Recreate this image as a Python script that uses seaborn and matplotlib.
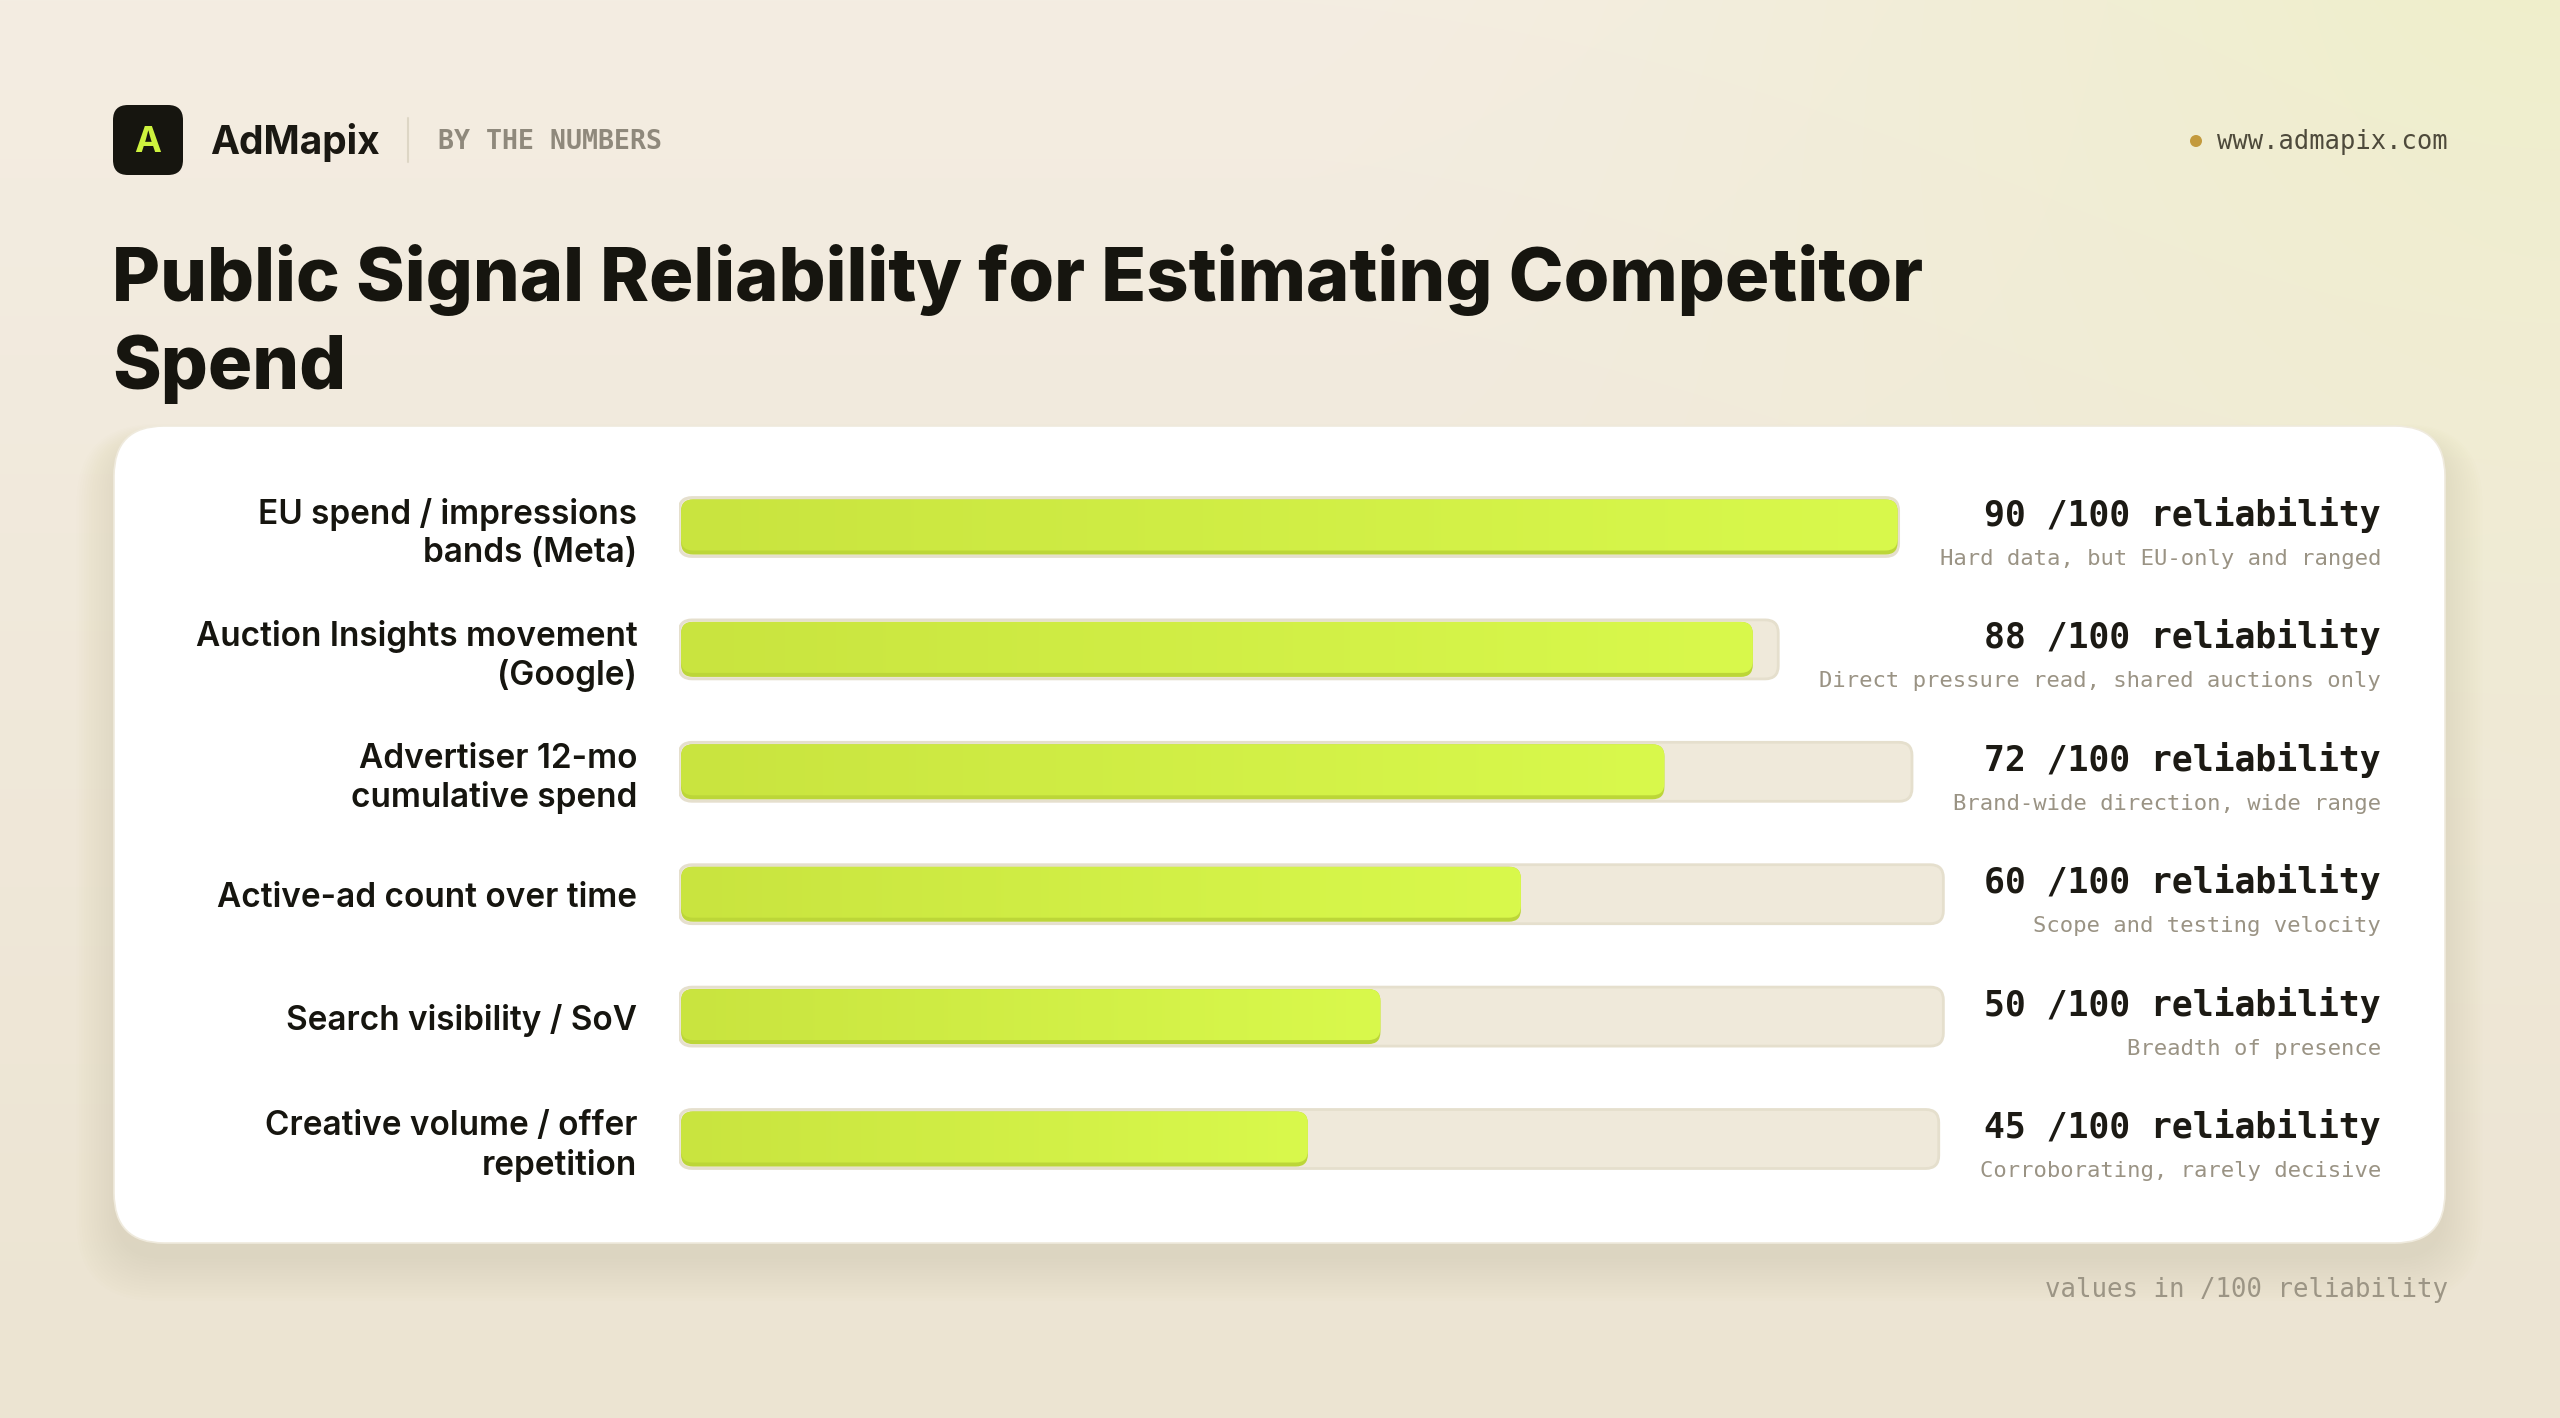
import numpy as np
import pandas as pd
import matplotlib.pyplot as plt
import seaborn as sns
from matplotlib.patches import FancyBboxPatch, Circle
from matplotlib.colors import to_rgb

# data
signals = [
    "EU spend / impressions\nbands (Meta)",
    "Auction Insights movement\n(Google)",
    "Advertiser 12-mo\ncumulative spend",
    "Active-ad count over time",
    "Search visibility / SoV",
    "Creative volume / offer\nrepetition",
]
scores = [90, 88, 72, 60, 50, 45]
notes = [
    "Hard data, but EU-only and ranged",
    "Direct pressure read, shared auctions only",
    "Brand-wide direction, wide range",
    "Scope and testing velocity",
    "Breadth of presence",
    "Corroborating, rarely decisive",
]
title_lines = ["Public Signal Reliability for Estimating Competitor", "Spend"]

sns.set_theme(style="white")
plt.rcParams["font.family"] = ["Inter", "DejaVu Sans"]
MONO = "DejaVu Sans Mono"

W, H = 2560, 1418
fig = plt.figure(figsize=(W / 100, H / 100), dpi=100)

# background canvas in pixel coords
bg = fig.add_axes([0, 0, 1, 1], zorder=0)
yy, xx = np.mgrid[0:H:2, 0:W:2]
t = (yy / H)[..., None]
top, bot, lime = np.array(to_rgb("#f4ede2")), np.array(to_rgb("#ece4d2")), np.array(to_rgb("#eeefc6"))
base = top * (1 - t) + bot * t
d = np.sqrt((xx - W * 1.0) ** 2 + (yy + 150.0) ** 2) / 1300
wgt = (np.clip(1 - d, 0, 1) ** 1.4 * 0.95)[..., None]
bg.imshow(base * (1 - wgt) + lime * wgt, extent=[0, W, H, 0], aspect="auto", interpolation="bilinear")
bg.set_xlim(0, W)
bg.set_ylim(H, 0)
bg.axis("off")

# card with soft shadow
cx, cy, cw, ch = 114, 426, 2331, 817
for k in range(16):
    bg.add_patch(FancyBboxPatch((cx - k * 2.5, cy + 16 - k * 1.2), cw + k * 5, ch + k * 4,
                                boxstyle="round,pad=0,rounding_size=%d" % (50 + k * 2),
                                fc="#8a7650", ec="none", alpha=0.008))
bg.add_patch(FancyBboxPatch((cx, cy), cw, ch, boxstyle="round,pad=0,rounding_size=50",
                            fc="white", ec="#efeadd", lw=1.2))

# header
bg.add_patch(FancyBboxPatch((113, 105), 70, 70, boxstyle="round,pad=0,rounding_size=15",
                            fc="#16150f", ec="none"))
bg.text(148, 142, "A", ha="center", va="center", fontsize=26, weight="bold", color="#cdf23e")
bg.text(210, 143, "AdMapix", ha="left", va="center", fontsize=28, weight="bold", color="#1a1812")
bg.plot([408, 408], [118, 162], color="#ddd6c5", lw=1.5)
bg.text(438, 142, "BY THE NUMBERS", ha="left", va="center", fontsize=19.2, weight="bold",
        family=MONO, color="#8f897c")
bg.add_patch(Circle((2196, 141), 6, fc="#c39a3d", ec="none"))
bg.text(2448, 142, "www.admapix.com", ha="right", va="center", fontsize=18.4,
        family=MONO, color="#4e4a3b")

# title, sized to the reference line width
t1 = bg.text(112, 280, title_lines[0], ha="left", va="center", fontsize=60, weight="heavy",
             color="#16150f")
fig.canvas.draw()
rend = fig.canvas.get_renderer()
fs = 60 * 1813 / t1.get_window_extent(rend).width
t1.set_fontsize(fs)
bg.text(112, 369, title_lines[1], ha="left", va="center", fontsize=fs, weight="heavy",
        color="#16150f")

# footer
bg.text(2448, 1290, "values in /100 reliability", ha="right", va="center", fontsize=18.5,
        family=MONO, color="#9c9585")

# main bar axes, x in pixels, y in rows
ROW = 122.4
left_px, right_px = 679, 2381
top_px = 527 - ROW / 2
ax = fig.add_axes([left_px / W, 1 - (top_px + 6 * ROW) / H, (right_px - left_px) / W, 6 * ROW / H],
                  zorder=2)
ax.set_facecolor("none")
span = right_px - left_px

# annotations, measured so each track stops short of its text column
val_txt, note_txt = [], []
for i, (s, n) in enumerate(zip(scores, notes)):
    val_txt.append(ax.text(span, i - 12 / ROW, f"{s} /100 reliability", ha="right", va="center",
                           fontsize=25, weight="bold", family=MONO, color="#1c1a14"))
    note_txt.append(ax.text(span, i + 32 / ROW, n, ha="right", va="center",
                            fontsize=16, family=MONO, color="#9a9384"))
ax.set_xlim(0, span)
ax.set_ylim(5.5, -0.5)
fig.canvas.draw()
inv = ax.transData.inverted()
track_w = []
for a, b in zip(val_txt, note_txt):
    x0 = min(a.get_window_extent(rend).x0, b.get_window_extent(rend).x0)
    track_w.append(inv.transform((x0, 0))[0] - 41)

df = pd.DataFrame({"signal": signals, "score": scores, "track": track_w})
df["fill"] = df["score"] / df["score"].max() * df["track"]

BAR_H = 59 / ROW
sns.barplot(data=df, y="signal", x="track", orient="h", width=BAR_H, color="#efe9da", ax=ax)
n_track = len(ax.patches)
sns.barplot(data=df, y="signal", x="fill", orient="h", width=BAR_H, color="#c8e23c", ax=ax)

rects = list(ax.patches)
grad = np.linspace(0, 1, 256)[:, None]
g_rgb = (np.array(to_rgb("#c9e43f")) * (1 - grad) + np.array(to_rgb("#d9f94c")) * grad)[None, :, :]
for j, p in enumerate(rects):
    x, y, w, h = p.get_x(), p.get_y(), p.get_width(), p.get_height()
    p.remove()
    if j < n_track:
        ax.add_patch(FancyBboxPatch((x, y), w, h, boxstyle="round,pad=0,rounding_size=13",
                                    mutation_aspect=1 / ROW, fc="#efe9da", ec="#e5dfcd", lw=2, zorder=2))
    else:
        fx, fy, fw, fh = x + 2, y + 2 / ROW, w - 3, h - 4 / ROW
        ax.add_patch(FancyBboxPatch((fx, fy), fw, fh, boxstyle="round,pad=0,rounding_size=12",
                                    mutation_aspect=1 / ROW, fc="#bcd638", ec="none", zorder=3))
        clip = FancyBboxPatch((fx, fy), fw, fh - 4 / ROW, boxstyle="round,pad=0,rounding_size=12",
                              mutation_aspect=1 / ROW, fc="none", ec="none", zorder=3)
        ax.add_patch(clip)
        im = ax.imshow(g_rgb, extent=[fx, fx + fw, fy, fy + fh], aspect="auto", zorder=4,
                       interpolation="bilinear")
        im.set_clip_path(clip)

ax.set_xlim(0, span)
ax.set_ylim(5.5, -0.5)
ax.set_xlabel("")
ax.set_ylabel("")
ax.set_xticks([])
sns.despine(ax=ax, left=True, bottom=True)
ax.tick_params(axis="y", length=0, pad=30)
for lab in ax.get_yticklabels():
    lab.set_fontsize(24)
    lab.set_fontweight("semibold")
    lab.set_color("#16150f")
    lab.set_ha("right")
    lab.set_multialignment("right")
    lab.set_linespacing(1.25)

fig.savefig("out.png", dpi=100)
